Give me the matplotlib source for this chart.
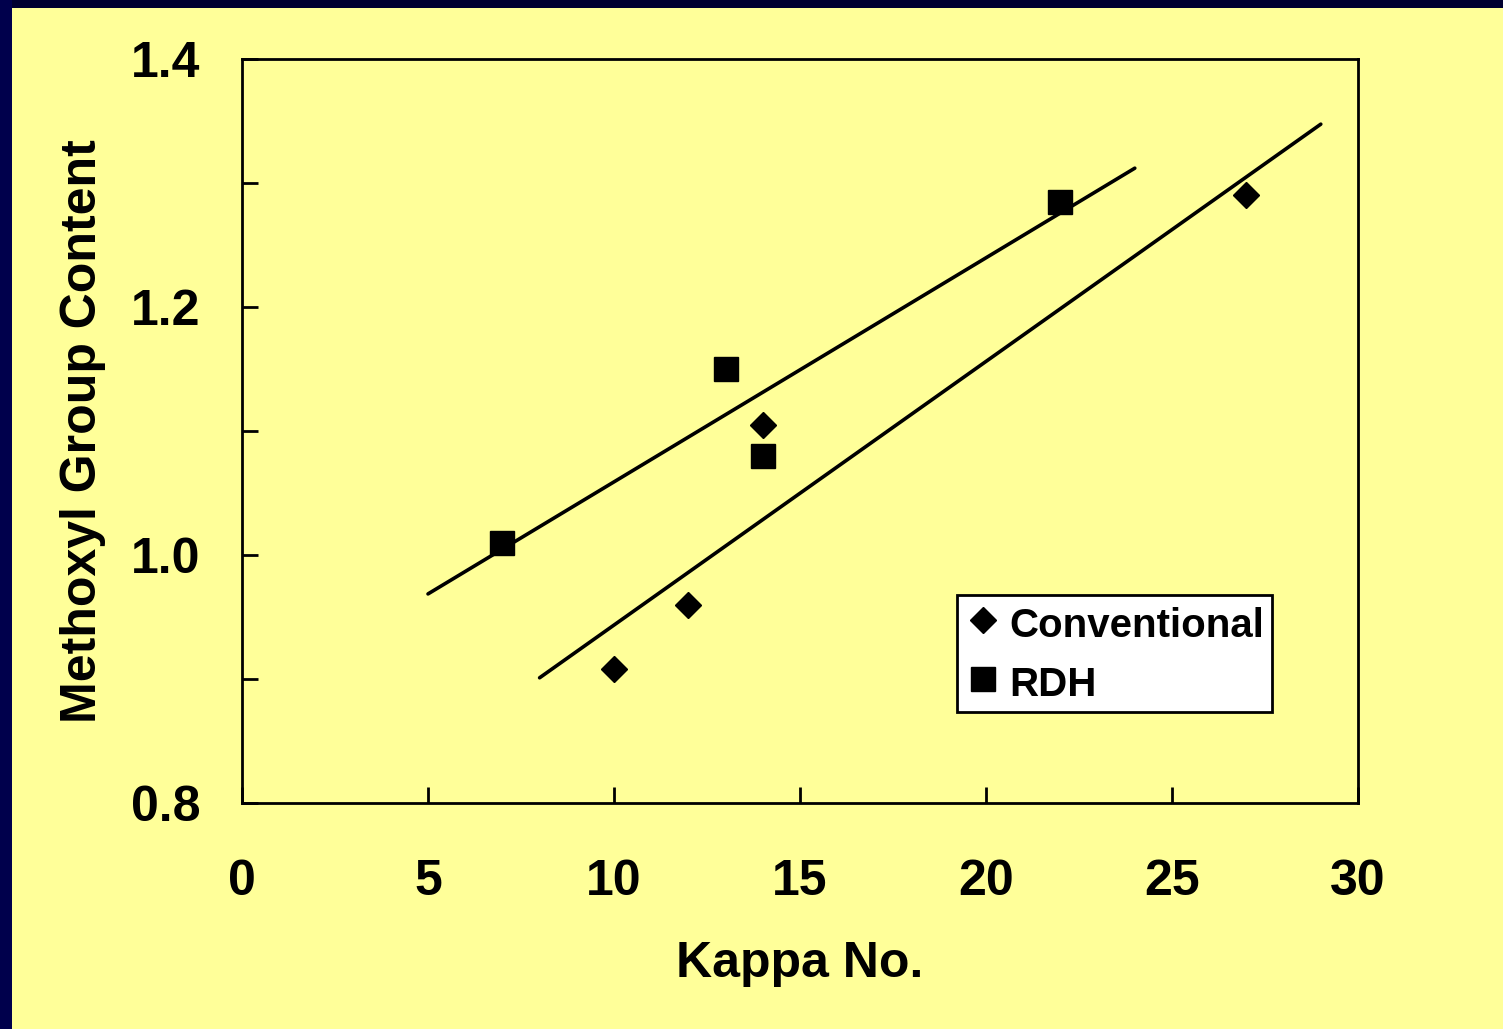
import numpy as np
import matplotlib
matplotlib.use("Agg")
import matplotlib.pyplot as plt
from matplotlib.patches import Rectangle


# =========================
# Data
# =========================

conv_kappa = [10, 12, 14, 27]
conv_methoxyl = [0.908, 0.96, 1.105, 1.29]

rdh_kappa = [7, 13, 14, 22]
rdh_methoxyl = [1.01, 1.15, 1.08, 1.285]

# x range over which each trend line is drawn
conv_fit_range = [8, 29]
rdh_fit_range = [5, 24]

x_ticks = [0, 5, 10, 15, 20, 25, 30]
y_ticks = [0.8, 1.0, 1.2, 1.4]
y_minor = [0.9, 1.1, 1.3]


# =========================
# Figure
# =========================

plt.rcParams["font.family"] = ["Liberation Sans", "DejaVu Sans"]
plt.rcParams["font.weight"] = "bold"

bg = "#FFFF99"
fig = plt.figure(figsize=(15.03, 10.29), dpi=100, facecolor=bg)

# dark frame on top and left edge
fig.patches.append(Rectangle((0, 1 - 8 / 1029), 1, 8 / 1029, transform=fig.transFigure,
                             facecolor="#000030", edgecolor="none", zorder=0))
fig.patches.append(Rectangle((0, 0), 12 / 1503, 1, transform=fig.transFigure,
                             facecolor="#00004C", edgecolor="none", zorder=0))

ax = fig.add_axes([242 / 1503, 1 - 803 / 1029, (1358 - 242) / 1503, (803 - 59) / 1029])
ax.set_facecolor(bg)

# trend lines from a linear fit
for xs, ys, rng in [(conv_kappa, conv_methoxyl, conv_fit_range),
                    (rdh_kappa, rdh_methoxyl, rdh_fit_range)]:
    k, b = np.polyfit(xs, ys, 1)
    xx = np.array(rng, dtype=float)
    ax.plot(xx, k * xx + b, color="black", lw=2.6, solid_capstyle="round", zorder=2)

ax.plot(conv_kappa, conv_methoxyl, linestyle="none", marker="D", ms=13,
        color="black", label="Conventional", zorder=3)
ax.plot(rdh_kappa, rdh_methoxyl, linestyle="none", marker="s", ms=17.5,
        color="black", label="RDH", zorder=3)

ax.set_xlim(0, 30)
ax.set_ylim(0.8, 1.4)
ax.set_xticks(x_ticks)
ax.set_xticklabels([str(t) for t in x_ticks])
ax.set_yticks(y_ticks)
ax.set_yticklabels([f"{t:.1f}" for t in y_ticks])
ax.set_yticks(y_minor, minor=True)

for s in ax.spines.values():
    s.set_linewidth(2)
ax.tick_params(axis="both", which="both", direction="in", length=11.5, width=2,
               labelsize=36)
ax.tick_params(axis="x", which="major", pad=40)
ax.tick_params(axis="y", which="major", pad=30)
ax.tick_params(top=False, right=False)

ax.set_xlabel("Kappa No.", fontsize=36, fontweight="bold", labelpad=26)
ax.set_ylabel("Methoxyl Group Content", fontsize=36, fontweight="bold", labelpad=18)

leg = ax.legend(loc="upper left", bbox_to_anchor=((957 - 242) / 1116, (803 - 595) / 744),
                frameon=True, fancybox=False, fontsize=29, handlelength=0.9,
                handleheight=1.2, handletextpad=0.2, borderpad=0.2,
                labelspacing=0.4, borderaxespad=0, markerscale=1.0)
leg.get_frame().set_edgecolor("black")
leg.get_frame().set_linewidth(2)
leg.get_frame().set_facecolor("white")
leg.get_frame().set_alpha(1)

fig.savefig("out.png", dpi=100, facecolor=bg)
